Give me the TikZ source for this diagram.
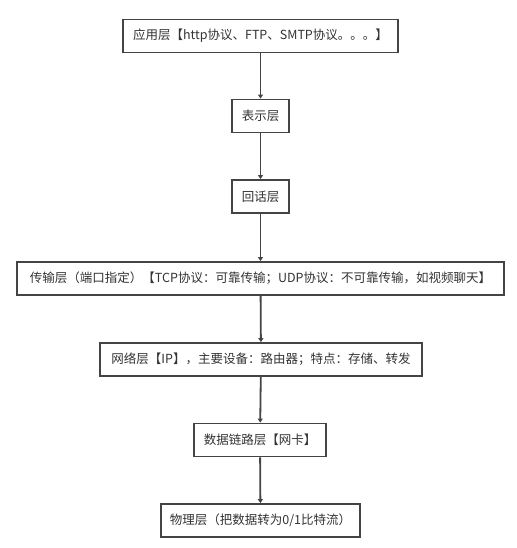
\documentclass[tikz,border=0pt]{standalone}
\usepackage{fontspec}
\newfontfamily\cjk{Noto Sans CJK SC}
\usetikzlibrary{arrows.meta}
\definecolor{bordergray}{HTML}{444444}
\definecolor{textgray}{HTML}{333333}
\begin{document}
\begin{tikzpicture}[x=1bp,y=-1bp,
  layerbox/.style={draw=bordergray,line width=1.8bp,fill=white,inner sep=0pt,
    minimum height=33bp,text=textgray,font=\cjk\fontsize{12.5bp}{14bp}\selectfont},
  conn/.style={draw=bordergray,line width=1.8bp,-{Triangle[length=4bp,width=5bp]}}]
\useasboundingbox (0,0) rectangle (517,548);
\node[layerbox,minimum width=275bp] (app) at (260.5,36) {应用层【http协议、FTP、SMTP协议。。。】};
\node[layerbox,minimum width=57bp] (pres) at (260.5,116) {表示层};
\node[layerbox,minimum width=57bp] (sess) at (260.5,196.5) {回话层};
\node[layerbox,minimum width=487bp] (trans) at (260.5,278.5) {传输层（端口指定）【TCP协议：可靠传输；UDP协议：不可靠传输，如视频聊天】};
\node[layerbox,minimum width=322bp] (net) at (261,359.5) {网络层【IP】，主要设备：路由器；特点：存储、转发};
\node[layerbox,minimum width=132bp] (link) at (260,440) {数据链路层【网卡】};
\node[layerbox,minimum width=199bp] (phys) at (260.5,520.5) {物理层（把数据转为0/1比特流）};
\draw[conn] (app) -- (pres);
\draw[conn] (pres) -- (sess);
\draw[conn] (sess) -- (trans);
\draw[conn] (trans) -- (net);
\draw[conn] (net) -- (link);
\draw[conn] (link) -- (phys);
\end{tikzpicture}
\end{document}
